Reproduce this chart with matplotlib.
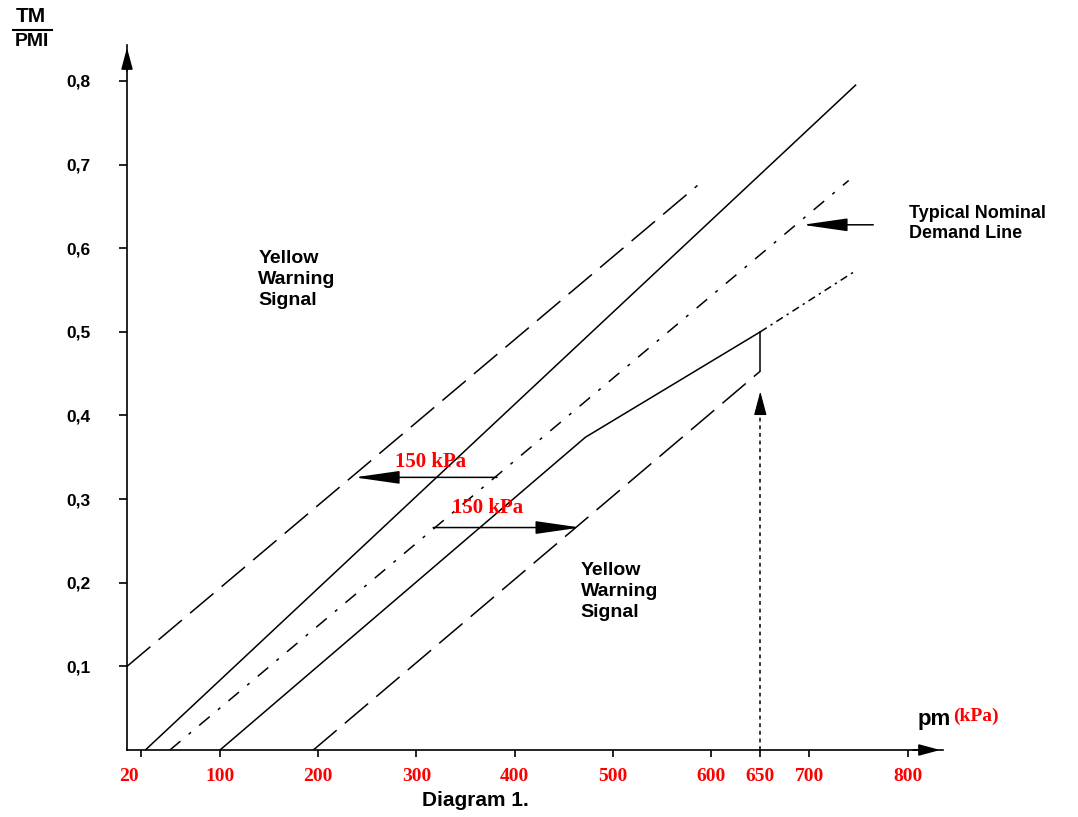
import matplotlib
matplotlib.use('Agg')
from matplotlib import pyplot as plt
from matplotlib.transforms import ScaledTranslation

plt.rcParams['font.family'] = ['Liberation Sans', 'DejaVu Sans']

##### DATA
# x ticks (kPa) and y ticks (TM/PMI)
X_TICKS = [20, 100, 200, 300, 400, 500, 600, 650, 700, 800]
X_TICK_LABELS = ['20', '100', '200', '300', '400', '500', '600', '650', '700', '800']
Y_TICKS = [0.1, 0.2, 0.3, 0.4, 0.5, 0.6, 0.7, 0.8]
Y_TICK_LABELS = ['0,1', '0,2', '0,3', '0,4', '0,5', '0,6', '0,7', '0,8']

# upper yellow limit (long dashes)
upper_dash_pm = [5.3, 586]
upper_dash_tm = [0.10, 0.675]
# upper solid
upper_solid_pm = [24, 747]
upper_solid_tm = [0.0, 0.795]
# typical nominal demand line (dash-dot)
nominal_pm = [49, 740]
nominal_tm = [0.0, 0.681]
# lower solid with bend
lower_solid_pm = [100, 472, 650]
lower_solid_tm = [0.0, 0.374, 0.50]
# continuation of lower solid
lower_ext_pm = [650, 747]
lower_ext_tm = [0.50, 0.573]
# lower yellow limit (long dashes)
lower_dash_pm = [195, 650]
lower_dash_tm = [0.0, 0.453]

# 650 kPa marker
mark_pm = 650
mark_top = 0.50
mark_mid = 0.453
mark_arrow_tip = 0.432
mark_arrow_base = 0.40

# 150 kPa arrows: (tail pm, tip pm, tm)
arrow_left = (382, 237, 0.326)
arrow_right = (317, 467, 0.266)
arrow_nominal = (765, 693, 0.628)

RED = '#ff0000'
##############

fig = plt.figure(figsize=(10.78, 8.17), dpi=100)
W, H = 1078, 817
ax = fig.add_axes([127 / W, (H - 750) / H, (943 - 127) / W, (750 - 45) / H])
ax.set_xlim(5.3, 836)
ax.set_ylim(0, 0.843)

for s in ['top', 'right']:
    ax.spines[s].set_visible(False)
for s in ['left', 'bottom']:
    ax.spines[s].set_linewidth(1.2)

# axis arrow heads
ax.annotate('', xy=(1.0, 0), xycoords='axes fraction', xytext=(0.96, 0),
            arrowprops=dict(arrowstyle='-|>,head_length=1.3,head_width=0.35', color='k', lw=1.2))
ax.annotate('', xy=(0, 1.0), xycoords='axes fraction', xytext=(0, 0.96),
            arrowprops=dict(arrowstyle='-|>,head_length=1.3,head_width=0.35', color='k', lw=1.2))

# ticks
ax.set_xticks(X_TICKS)
ax.set_xticklabels(X_TICK_LABELS, color=RED, fontsize=14, fontweight='bold',
                   family='Liberation Serif')
ax.set_yticks(Y_TICKS)
ax.set_yticklabels(Y_TICK_LABELS, fontsize=12.5, fontweight='bold')
ax.tick_params(axis='x', length=5, width=1.2, pad=8)
ax.tick_params(axis='y', length=6, width=1.2, pad=20)

# the "20" label sits a bit left of its tick in the original
lbl20 = ax.get_xticklabels()[0]
lbl20.set_transform(lbl20.get_transform() + ScaledTranslation(-0.13, 0, fig.dpi_scale_trans))

LW = 1.1
ax.plot(upper_dash_pm, upper_dash_tm, color='k', lw=LW, dashes=(20, 7))
ax.plot(upper_solid_pm, upper_solid_tm, color='k', lw=LW)
ax.plot(nominal_pm, nominal_tm, color='k', lw=LW, dashes=(9, 7, 2, 7))
ax.plot(lower_solid_pm, lower_solid_tm, color='k', lw=LW)
ax.plot(lower_ext_pm, lower_ext_tm, color='k', lw=LW, dashes=(5, 3, 1.5, 3))
ax.plot(lower_dash_pm, lower_dash_tm, color='k', lw=LW, dashes=(20, 7))

# 650 kPa vertical marker
ax.plot([mark_pm, mark_pm], [mark_top, mark_mid], color='k', lw=LW)
ax.plot([mark_pm, mark_pm], [0, mark_arrow_base], color='k', lw=LW, dashes=(2.5, 2.5))
ax.annotate('', xy=(mark_pm, mark_arrow_tip), xytext=(mark_pm, mark_arrow_base),
            arrowprops=dict(arrowstyle='-|>,head_length=1.5,head_width=0.4', color='k', lw=0.8))

# 150 kPa arrows
for tail, tip, tm in [arrow_left, arrow_right, arrow_nominal]:
    ax.annotate('', xy=(tip, tm), xytext=(tail, tm), annotation_clip=False,
                arrowprops=dict(arrowstyle='-|>,head_length=2.8,head_width=0.4',
                                color='k', lw=1.1, shrinkA=0, shrinkB=0))

ax.text(314, 0.344, '150 kPa', color=RED, fontsize=15, fontweight='bold',
        family='Liberation Serif', ha='center', va='center')
ax.text(372, 0.289, '150 kPa', color=RED, fontsize=15, fontweight='bold',
        family='Liberation Serif', ha='center', va='center')

# labels
ax.text(139, 0.598, 'Yellow\nWarning\nSignal', fontsize=14, fontweight='bold',
        ha='left', va='top', linespacing=1.3)
ax.text(467, 0.225, 'Yellow\nWarning\nSignal', fontsize=14, fontweight='bold',
        ha='left', va='top', linespacing=1.3)
ax.text(801, 0.652, 'Typical Nominal\nDemand Line', fontsize=13, fontweight='bold',
        ha='left', va='top', linespacing=1.25, clip_on=False)

ax.text(810, 0.036, 'pm', fontsize=16, fontweight='bold', ha='left', va='center')
ax.text(846, 0.040, '(kPa)', fontsize=14, fontweight='bold', color=RED,
        family='Liberation Serif', ha='left', va='center', clip_on=False)

# y label as fraction
fig.text(31 / W, 1 - 17 / H, 'TM', fontsize=15, fontweight='bold', ha='center', va='center')
fig.add_artist(plt.Line2D([13 / W, 52 / W], [1 - 30 / H, 1 - 30 / H], color='k', lw=1.5))
fig.text(32 / W, 1 - 42 / H, 'PMI', fontsize=14, fontweight='bold', ha='center', va='center')

fig.text(475 / W, 1 - 801 / H, 'Diagram 1.', fontsize=15, fontweight='bold',
         ha='center', va='center')

fig.savefig('out.png', dpi=100, facecolor='w')
